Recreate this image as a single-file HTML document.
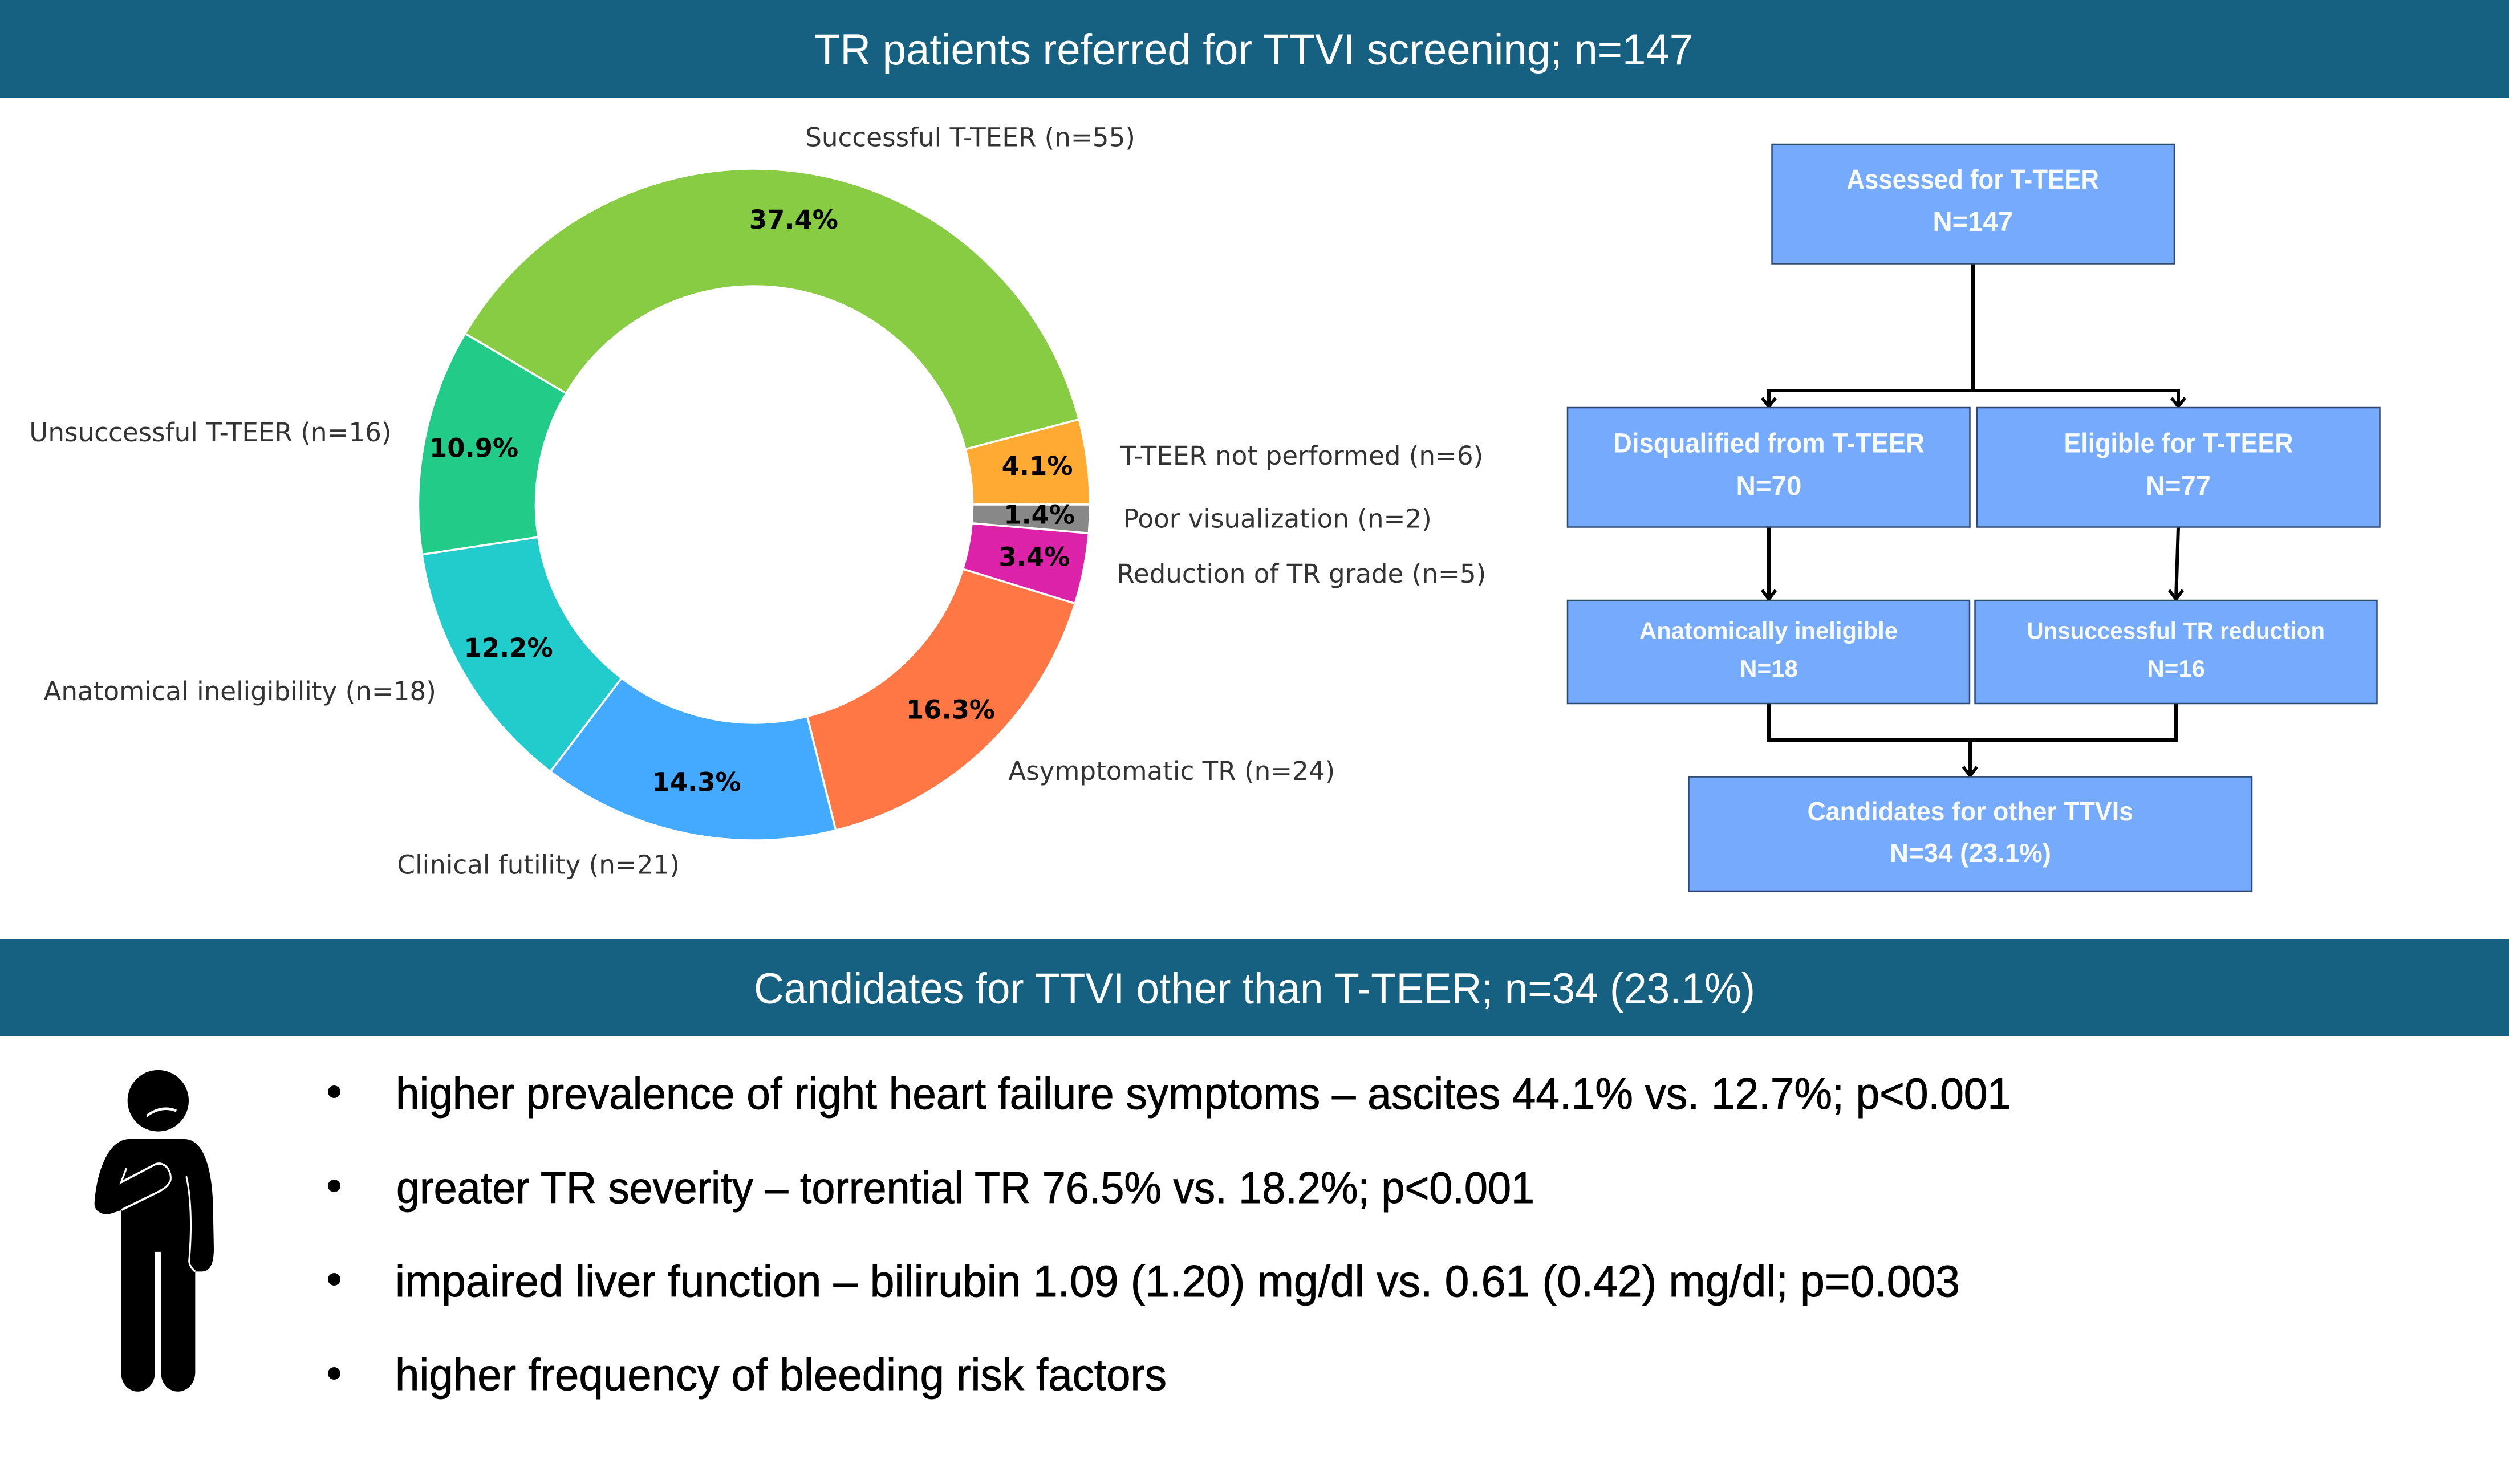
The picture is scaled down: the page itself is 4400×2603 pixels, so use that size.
<!DOCTYPE html>
<html lang="en">
<head>
<meta charset="utf-8">
<title>TR patients referred for TTVI screening</title>
<style>
  html, body { margin: 0; padding: 0; background: #ffffff; }
  body { width: 4400px; height: 2603px; overflow: hidden; }
  svg { display: block; }
  .head { font-family: "Liberation Sans", sans-serif; font-size: 76px; fill: #ffffff; }
  .flow { font-family: "Liberation Sans", sans-serif; font-weight: bold; fill: #f7fbff; }
  .bul { font-family: "Liberation Sans", sans-serif; font-size: 78px; fill: #000000; stroke: #000000; stroke-width: 0.9px; }
  .lbl { font-family: "DejaVu Sans", sans-serif; font-size: 45.2px; fill: #333333; }
  .pct { font-family: "DejaVu Sans", sans-serif; font-size: 45px; font-weight: bold; fill: #000000; text-anchor: middle; }
  .box { fill: #75aafd; stroke: #2f4a70; stroke-width: 2.5; }
  .con { fill: none; stroke: #000000; stroke-width: 6; stroke-linecap: butt; stroke-linejoin: miter; }
  .arw { fill: none; stroke: #000000; stroke-width: 5.5; }
</style>
</head>
<body>
<svg id="root" width="4400" height="2603" viewBox="0 0 4400 2603" xmlns="http://www.w3.org/2000/svg">
  <rect width="4400" height="2603" fill="#ffffff"/>

  <rect x="0" y="0" width="4400" height="172" fill="#166082"/>
  <text class="head" x="1428" y="113" textLength="1541" lengthAdjust="spacingAndGlyphs">TR patients referred for TTVI screening; n=147</text>

  <rect x="0" y="1647" width="4400" height="171" fill="#166082"/>
  <text class="head" x="1322" y="1760" textLength="1756" lengthAdjust="spacingAndGlyphs">Candidates for TTVI other than T-TEER; n=34 (23.1%)</text>

  <g id="donut"></g>

  <g>
    <path class="con" d="M3460 463 V685"/>
    <path class="con" d="M3102 712 V685 H3820 V712"/>
    <path class="arw" d="M3090 698 L3102 713 L3114 698"/>
    <path class="arw" d="M3808 698 L3820 713 L3832 698"/>
    <path class="con" d="M3102 925 V1050"/>
    <path class="arw" d="M3090 1035 L3102 1051 L3114 1035"/>
    <path class="con" d="M3820 925 L3816 1050"/>
    <path class="arw" d="M3804 1035 L3816 1051 L3828 1035"/>
    <path class="con" d="M3102 1234 V1298 H3816 V1234"/>
    <path class="con" d="M3455 1298 V1360"/>
    <path class="arw" d="M3443 1345 L3455 1361 L3467 1345"/>

    <rect class="box" x="3107.5" y="253" width="705.5" height="209.5"/>
    <text class="flow" font-size="48" x="3238.5" y="331" textLength="442.5" lengthAdjust="spacingAndGlyphs">Assessed for T-TEER</text>
    <text class="flow" font-size="48" x="3389.5" y="405" textLength="140.5" lengthAdjust="spacingAndGlyphs">N=147</text>

    <rect class="box" x="2749" y="715" width="705.5" height="209.5"/>
    <text class="flow" font-size="48" x="2829" y="793.5" textLength="546" lengthAdjust="spacingAndGlyphs">Disqualified from T-TEER</text>
    <text class="flow" font-size="48" x="3044.5" y="868.5" textLength="115" lengthAdjust="spacingAndGlyphs">N=70</text>

    <rect class="box" x="3467" y="715" width="706.5" height="209.5"/>
    <text class="flow" font-size="48" x="3619.5" y="793.5" textLength="402" lengthAdjust="spacingAndGlyphs">Eligible for T-TEER</text>
    <text class="flow" font-size="48" x="3763" y="868.5" textLength="114" lengthAdjust="spacingAndGlyphs">N=77</text>

    <rect class="box" x="2749" y="1053" width="705" height="181"/>
    <text class="flow" font-size="42" x="2875" y="1120.5" textLength="453" lengthAdjust="spacingAndGlyphs">Anatomically ineligible</text>
    <text class="flow" font-size="42" x="3051" y="1187" textLength="102" lengthAdjust="spacingAndGlyphs">N=18</text>

    <rect class="box" x="3463.5" y="1053" width="705" height="181"/>
    <text class="flow" font-size="42" x="3554.5" y="1120.5" textLength="522.5" lengthAdjust="spacingAndGlyphs">Unsuccessful TR reduction</text>
    <text class="flow" font-size="42" x="3765.5" y="1187" textLength="101.5" lengthAdjust="spacingAndGlyphs">N=16</text>

    <rect class="box" x="2961.5" y="1362.5" width="987.5" height="200.5"/>
    <text class="flow" font-size="46" x="3169.5" y="1439" textLength="571.5" lengthAdjust="spacingAndGlyphs">Candidates for other TTVIs</text>
    <text class="flow" font-size="46" x="3314" y="1512" textLength="283" lengthAdjust="spacingAndGlyphs">N=34 (23.1%)</text>
  </g>

  <g transform="matrix(0.33333 0 0 0.42088 100 1820)">
    <ellipse cx="532" cy="263" rx="161" ry="128" fill="#000000"/>
    <path d="M472 326 Q550 280 628 305" fill="none" stroke="#ffffff" stroke-width="11"/>
    <path d="M380 423 L670 423 C760 423 810 520 820 680 L825 880 C825 950 800 975 760 975 L727 975 L727 1395 C727 1445 680 1475 637 1475 C590 1475 547 1445 547 1395 L547 893 L515 893 L515 1395 C515 1445 470 1475 425 1475 C380 1475 337 1445 337 1395 L337 720 L275 735 C230 740 195 720 197 690 C210 540 280 423 380 423 Z" fill="#000000"/>
    <path d="M365 545 L337 603 L520 527 C570 515 605 560 597 595 C585 620 560 630 540 640 L340 718" fill="none" stroke="#ffffff" stroke-width="9"/>
    <path d="M680 578 C702 650 712 780 695 930 C695 950 715 968 727 975" fill="none" stroke="#ffffff" stroke-width="9"/>
  </g>

  <g>
    <circle cx="586" cy="1915" r="11" fill="#000000"/>
    <text class="bul" x="694" y="1945" textLength="2833" lengthAdjust="spacingAndGlyphs">higher prevalence of right heart failure symptoms – ascites 44.1% vs. 12.7%; p&lt;0.001</text>
    <circle cx="586" cy="2080" r="11" fill="#000000"/>
    <text class="bul" x="695" y="2110" textLength="1996" lengthAdjust="spacingAndGlyphs">greater TR severity – torrential TR 76.5% vs. 18.2%; p&lt;0.001</text>
    <circle cx="586" cy="2244" r="11" fill="#000000"/>
    <text class="bul" x="693" y="2274" textLength="2744" lengthAdjust="spacingAndGlyphs">impaired liver function – bilirubin 1.09 (1.20) mg/dl vs. 0.61 (0.42) mg/dl; p=0.003</text>
    <circle cx="586" cy="2409" r="11" fill="#000000"/>
    <text class="bul" x="693" y="2438" textLength="1353" lengthAdjust="spacingAndGlyphs">higher frequency of bleeding risk factors</text>
  </g>
</svg>

<script>
const categories = ["T-TEER not performed", "Successful T-TEER", "Unsuccessful T-TEER", "Anatomical ineligibility", "Clinical futility", "Asymptomatic TR", "Reduction of TR grade", "Poor visualization"];
const counts = [6, 55, 16, 18, 21, 24, 5, 2];
const sliceColors = ["#FFAA33", "#88CC44", "#22CC88", "#22CCCC", "#44AAFF", "#FF7744", "#DD22AA", "#888888"];

const SVG_NS = "http://www.w3.org/2000/svg";
const cx = 1322.5, cy = 885, outerR = 589, innerR = 383;
const donut = document.getElementById("donut");
const total = counts.reduce(function (a, b) { return a + b; }, 0);

function angleScale(v) { return v / total * 2 * Math.PI; }
function px(r, a) { return cx + r * Math.cos(a); }
function py(r, a) { return cy - r * Math.sin(a); }
function slug(s) { return s.toLowerCase().replace(/[^a-z0-9]+/g, "-"); }

let cumulative = 0;
counts.forEach(function (value, i) {
  const a0 = angleScale(cumulative);
  const a1 = angleScale(cumulative + value);
  const large = (a1 - a0) > Math.PI ? 1 : 0;
  cumulative += value;

  const wedge = document.createElementNS(SVG_NS, "path");
  wedge.setAttribute("d",
    "M" + px(outerR, a0) + " " + py(outerR, a0) +
    " A" + outerR + " " + outerR + " 0 " + large + " 0 " + px(outerR, a1) + " " + py(outerR, a1) +
    " L" + px(innerR, a1) + " " + py(innerR, a1) +
    " A" + innerR + " " + innerR + " 0 " + large + " 1 " + px(innerR, a0) + " " + py(innerR, a0) + " Z");
  wedge.setAttribute("fill", sliceColors[i]);
  wedge.setAttribute("stroke", "#ffffff");
  wedge.setAttribute("stroke-width", "3.5");
  wedge.setAttribute("stroke-linejoin", "round");
  
  
  donut.appendChild(wedge);
});

cumulative = 0;
counts.forEach(function (value, i) {
  const mid = angleScale(cumulative + value / 2);
  cumulative += value;

  const pct = document.createElementNS(SVG_NS, "text");
  pct.setAttribute("class", "pct");
  pct.setAttribute("x", px(0.85 * outerR, mid));
  pct.setAttribute("y", py(0.85 * outerR, mid) + 12);
  pct.textContent = (value / total * 100).toFixed(1) + "%";
  
  
  donut.appendChild(pct);

  const lx = px(1.1 * outerR, mid);
  const label = document.createElementNS(SVG_NS, "text");
  label.setAttribute("class", "lbl");
  label.setAttribute("x", lx);
  label.setAttribute("y", py(1.1 * outerR, mid) + 13);
  label.setAttribute("text-anchor", lx >= cx ? "start" : "end");
  label.textContent = categories[i] + " (n=" + value + ")";
  
  
  donut.appendChild(label);
});
</script>
</body>
</html>
